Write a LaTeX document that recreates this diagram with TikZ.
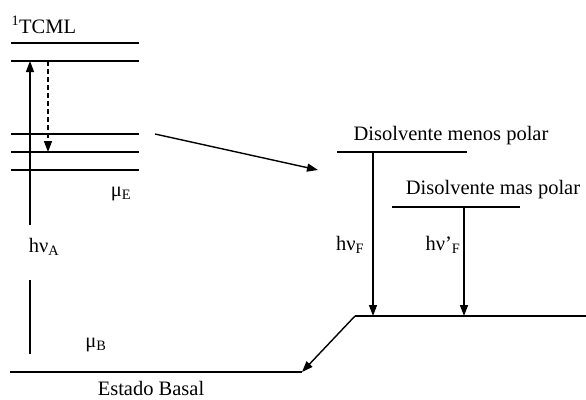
\documentclass[tikz,border=0pt]{standalone}
\usepackage{fontspec}
\setmainfont{Liberation Serif}
\usetikzlibrary{arrows.meta}

\begin{document}
\begin{tikzpicture}[x=1pt, y=-1pt,
    font=\fontsize{20.5}{24}\selectfont,
    level/.style={line width=1.4pt},
    >={Triangle[length=11pt,width=8pt]}]
    \useasboundingbox (0,0) rectangle (586,399);

    % Excited state levels
    \foreach \y/\n in {43/1, 61/2, 134/3, 152/4, 170/5} {
        \draw[level] (11,\y) coordinate (l\n w) -- (139,\y) coordinate (l\n e);
    }
    \node[anchor=base west] (tcml) at (8,33) {\textsuperscript{1}TCML};

    % Absorption and relaxation
    \coordinate (absB) at (30,354);
    \coordinate (absT) at (30,61);
    \coordinate (gapB) at (30,280);
    \coordinate (gapT) at (30,225);
    \node (hvA) at (44,247) {hν\textsubscript{A}};
    \draw[level] (absB) -- (gapB);
    \draw[level, ->] (gapT) -- (absT);
    \coordinate (relT) at (48,61);
    \coordinate (relB) at (48,152);
    \draw[level, dash pattern=on 5pt off 3pt, ->] (relT) -- (relB);

    % Dipole labels
    \node (muE) at (121,194) {μ\textsubscript{E}};
    \node (muB) at (96,345) {μ\textsubscript{B}};

    % Ground state
    \coordinate (gsW) at (10,372);
    \coordinate (gsE) at (302,372);
    \draw[level] (gsW) -- (gsE);
    \node (basal) at (151,388) {Estado Basal};

    % Solvent relaxed levels
    \coordinate (sol) at (155,134);
    \coordinate (solEnd) at (318,170);
    \draw[level, ->] (sol) -- (solEnd);
    \coordinate (mpW) at (337,152);
    \coordinate (mpE) at (467,152);
    \draw[level] (mpW) -- (mpE);
    \node (menos) at (451,136) {Disolvente menos polar};
    \coordinate (pW) at (392,207);
    \coordinate (pE) at (520,207);
    \draw[level] (pW) -- (pE);
    \node (mas) at (493,190) {Disolvente mas polar};

    % Emission
    \coordinate (fT) at (373,152);
    \coordinate (fB) at (373,316);
    \coordinate (f2T) at (464,207);
    \coordinate (f2B) at (464,316);
    \draw[level, ->] (fT) -- (fB);
    \draw[level, ->] (f2T) -- (f2B);
    \node (hvF) at (350,245) {hν\textsubscript{F}};
    \node (hvF2) at (443,245) {hν’\textsubscript{F}};

    % Relaxed ground state
    \coordinate (rgW) at (355,316);
    \coordinate (rgE) at (586,316);
    \draw[level] (rgW) -- (rgE);
    \draw[level, ->] (rgW) -- (gsE);
\end{tikzpicture}
\end{document}
